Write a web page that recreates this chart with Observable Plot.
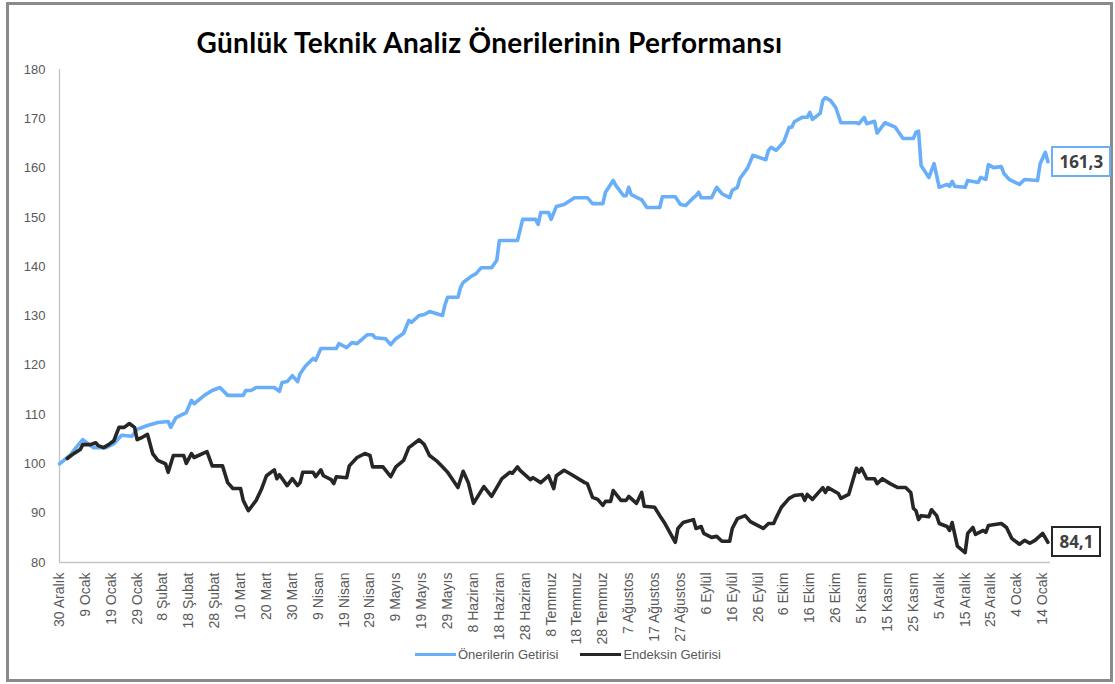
<!DOCTYPE html>
<html><head><meta charset="utf-8">
<script src="https://cdn.jsdelivr.net/npm/d3@7"></script>
<script src="https://cdn.jsdelivr.net/npm/@observablehq/plot@0.6"></script>
<style>
body{margin:0;background:#fff;}
#wrap{position:relative;width:1115px;height:684px;overflow:hidden;background:#fff;}
#frame{position:absolute;left:6px;top:2px;width:1101px;height:674px;border:3px solid #8a8a8a;pointer-events:none;}
#title{position:absolute;left:0;width:979px;top:25px;line-height:28px;text-align:center;font:700 28px Lato,sans-serif;letter-spacing:0.3px;color:#000;}
#legend{position:absolute;left:415px;top:647px;display:flex;align-items:center;font:13px "Liberation Sans",Arial,sans-serif;color:#595959;}
#legend .sw{width:41px;height:3px;margin-right:2px;}
#legend .gap{width:22px;}
.endbox{position:absolute;height:31px;box-sizing:border-box;border:2px solid;padding:0 6px;display:flex;align-items:center;font:700 17px "Open Sans",sans-serif;color:#404040;background:#fff;}
svg{position:absolute;left:0;top:0;}
</style></head>
<body>
<div id="wrap">
  <div id="title">Günlük Teknik Analiz Önerilerinin Performansı</div>
</div>
<script>
// ---- Data ----
const seriesNames = ["Önerilerin Getirisi", "Endeksin Getirisi"];
const seriesColors = ["#68aef8", "#262626"];
const ayAdlari = ["Ocak","Şubat","Mart","Nisan","Mayıs","Haziran","Temmuz","Ağustos","Eylül","Ekim","Kasım","Aralık"];
const yTicks = [80, 90, 100, 110, 120, 130, 140, 150, 160, 170, 180];
const xStart = "2018-12-30";
const xEnd = "2020-01-17";
const xTickStepDays = 10;

const oneri = [
["2018-12-30",100.0],["2019-01-03",101.7],["2019-01-06",103.7],["2019-01-08",104.9],["2019-01-10",104.1],
["2019-01-12",103.3],["2019-01-17",103.3],["2019-01-20",104.1],["2019-01-23",105.8],["2019-01-27",105.6],
["2019-01-29",107.0],["2019-02-02",107.8],["2019-02-06",108.4],["2019-02-10",108.6],["2019-02-11",107.4],
["2019-02-13",109.4],["2019-02-17",110.4],["2019-02-19",112.9],["2019-02-20",112.2],["2019-02-24",113.9],
["2019-02-27",114.9],["2019-03-02",115.5],["2019-03-05",113.9],["2019-03-11",113.9],["2019-03-12",114.9],
["2019-03-14",114.9],["2019-03-16",115.5],["2019-03-23",115.5],["2019-03-25",114.7],["2019-03-26",116.5],
["2019-03-28",116.7],["2019-03-30",117.9],["2019-04-01",116.7],["2019-04-02",118.3],["2019-04-04",119.8],
["2019-04-07",121.4],["2019-04-08",121.0],["2019-04-10",123.4],["2019-04-16",123.4],["2019-04-17",124.4],
["2019-04-20",123.6],["2019-04-22",124.6],["2019-04-24",124.4],["2019-04-28",126.2],["2019-04-30",126.2],
["2019-05-01",125.6],["2019-05-05",125.4],["2019-05-07",124.2],["2019-05-09",125.4],["2019-05-12",126.5],
["2019-05-14",129.1],["2019-05-15",128.7],["2019-05-18",130.1],["2019-05-20",130.3],["2019-05-22",130.9],
["2019-05-27",130.1],["2019-05-28",132.3],["2019-05-29",133.8],["2019-06-02",133.8],["2019-06-03",135.8],
["2019-06-04",136.8],["2019-06-07",138.0],["2019-06-09",138.6],["2019-06-11",139.8],["2019-06-15",139.8],
["2019-06-17",141.3],["2019-06-18",145.3],["2019-06-25",145.3],["2019-06-27",149.6],["2019-07-02",149.6],
["2019-07-03",148.6],["2019-07-04",151.0],["2019-07-07",151.0],["2019-07-08",149.6],["2019-07-10",152.2],
["2019-07-13",152.6],["2019-07-17",154.0],["2019-07-22",154.0],["2019-07-24",152.8],["2019-07-28",152.8],
["2019-07-29",155.1],["2019-08-01",157.5],["2019-08-02",156.5],["2019-08-05",154.4],["2019-08-06",154.4],
["2019-08-07",156.1],["2019-08-08",154.6],["2019-08-11",153.8],["2019-08-12",153.6],["2019-08-14",152.0],
["2019-08-19",152.0],["2019-08-20",154.2],["2019-08-25",154.2],["2019-08-27",152.6],["2019-08-29",152.4],
["2019-09-01",154.0],["2019-09-02",154.4],["2019-09-03",155.1],["2019-09-04",154.0],["2019-09-08",154.0],
["2019-09-10",156.1],["2019-09-12",154.8],["2019-09-15",154.0],["2019-09-16",155.5],["2019-09-18",156.1],
["2019-09-19",157.9],["2019-09-22",160.1],["2019-09-24",162.6],["2019-09-29",161.7],["2019-09-30",163.6],
["2019-10-01",164.2],["2019-10-03",163.6],["2019-10-06",165.4],["2019-10-08",168.3],["2019-10-09",168.3],
["2019-10-10",169.4],["2019-10-13",170.3],["2019-10-15",170.3],["2019-10-16",171.3],["2019-10-17",169.9],
["2019-10-20",171.1],["2019-10-21",173.7],["2019-10-22",174.3],["2019-10-24",173.7],["2019-10-26",172.3],
["2019-10-28",169.2],["2019-11-03",169.2],["2019-11-04",169.0],["2019-11-06",170.3],["2019-11-07",169.0],
["2019-11-10",169.5],["2019-11-11",167.1],["2019-11-14",169.2],["2019-11-18",168.3],["2019-11-21",166.0],
["2019-11-25",166.0],["2019-11-26",167.3],["2019-11-27",167.5],["2019-11-28",160.5],["2019-12-01",158.1],
["2019-12-03",160.9],["2019-12-05",156.1],["2019-12-08",156.7],["2019-12-09",156.3],["2019-12-10",157.3],
["2019-12-11",156.3],["2019-12-15",156.1],["2019-12-16",157.5],["2019-12-20",157.1],["2019-12-21",158.1],
["2019-12-23",157.7],["2019-12-24",160.7],["2019-12-26",160.1],["2019-12-29",160.3],["2019-12-30",158.9],
["2020-01-01",157.7],["2020-01-05",156.7],["2020-01-07",157.7],["2020-01-12",157.5],["2020-01-13",160.9],
["2020-01-15",163.2],["2020-01-16",161.3]
];

const endeks = [
["2019-01-02",101.1],["2019-01-04",101.9],["2019-01-07",102.9],["2019-01-08",103.9],["2019-01-11",103.9],
["2019-01-13",104.3],["2019-01-14",103.7],["2019-01-16",103.3],["2019-01-18",103.9],["2019-01-20",104.7],
["2019-01-22",107.4],["2019-01-24",107.4],["2019-01-26",108.2],["2019-01-28",107.4],["2019-01-29",104.9],
["2019-01-31",105.4],["2019-02-02",106.0],["2019-02-04",102.1],["2019-02-06",100.7],["2019-02-09",100.0],
["2019-02-10",98.3],["2019-02-12",101.7],["2019-02-16",101.7],["2019-02-17",100.1],["2019-02-19",102.1],
["2019-02-20",101.3],["2019-02-25",102.5],["2019-02-27",99.6],["2019-03-03",99.6],["2019-03-05",96.2],
["2019-03-07",95.0],["2019-03-10",95.0],["2019-03-11",92.6],["2019-03-13",90.5],["2019-03-16",92.6],
["2019-03-18",94.8],["2019-03-20",97.6],["2019-03-23",98.8],["2019-03-24",97.0],["2019-03-25",97.8],
["2019-03-28",95.6],["2019-03-30",97.0],["2019-04-01",95.6],["2019-04-02",96.2],["2019-04-03",98.3],
["2019-04-07",98.3],["2019-04-08",97.4],["2019-04-10",98.8],["2019-04-11",97.6],["2019-04-14",96.8],
["2019-04-15",96.0],["2019-04-16",97.4],["2019-04-20",97.2],["2019-04-21",99.6],["2019-04-24",101.3],
["2019-04-27",102.1],["2019-04-29",101.7],["2019-04-30",99.4],["2019-05-04",99.4],["2019-05-07",97.4],
["2019-05-09",99.4],["2019-05-12",100.7],["2019-05-14",103.3],["2019-05-18",104.9],["2019-05-20",103.9],
["2019-05-22",101.7],["2019-05-25",100.5],["2019-05-27",99.4],["2019-05-29",98.3],["2019-06-02",95.2],
["2019-06-04",98.5],["2019-06-06",96.2],["2019-06-08",92.0],["2019-06-12",95.4],["2019-06-15",93.4],
["2019-06-19",97.0],["2019-06-22",98.3],["2019-06-23",98.1],["2019-06-25",99.4],["2019-06-26",98.7],
["2019-06-30",96.8],["2019-07-01",97.2],["2019-07-04",96.2],["2019-07-07",97.6],["2019-07-09",95.0],
["2019-07-10",97.6],["2019-07-13",98.7],["2019-07-16",97.8],["2019-07-21",96.2],["2019-07-22",96.0],
["2019-07-24",93.2],["2019-07-26",92.8],["2019-07-28",91.6],["2019-07-29",92.4],["2019-07-31",92.4],
["2019-08-01",94.6],["2019-08-04",92.6],["2019-08-06",92.6],["2019-08-07",93.4],["2019-08-10",92.0],
["2019-08-12",94.2],["2019-08-13",91.4],["2019-08-17",91.2],["2019-08-19",89.5],["2019-08-21",87.9],
["2019-08-25",84.1],["2019-08-26",86.9],["2019-08-28",88.1],["2019-09-01",88.7],["2019-09-02",86.9],
["2019-09-04",87.3],["2019-09-05",85.9],["2019-09-08",85.1],["2019-09-10",85.3],["2019-09-12",84.3],
["2019-09-15",84.3],["2019-09-16",86.9],["2019-09-18",88.9],["2019-09-21",89.5],["2019-09-23",88.3],
["2019-09-28",86.9],["2019-09-30",87.9],["2019-10-02",87.9],["2019-10-03",89.1],["2019-10-05",91.2],
["2019-10-08",93.0],["2019-10-10",93.6],["2019-10-13",93.8],["2019-10-14",92.6],["2019-10-15",93.8],
["2019-10-17",92.8],["2019-10-21",95.2],["2019-10-22",94.2],["2019-10-23",95.2],["2019-10-27",94.0],
["2019-10-28",93.0],["2019-10-31",93.8],["2019-11-03",99.1],["2019-11-04",98.3],["2019-11-05",99.1],
["2019-11-07",97.0],["2019-11-10",97.0],["2019-11-11",96.0],["2019-11-13",97.0],["2019-11-16",96.0],
["2019-11-19",95.2],["2019-11-22",95.2],["2019-11-24",94.2],["2019-11-25",91.0],["2019-11-26",90.5],
["2019-11-27",88.7],["2019-11-28",89.5],["2019-12-01",89.3],["2019-12-02",90.7],["2019-12-04",89.5],
["2019-12-05",87.9],["2019-12-08",87.3],["2019-12-09",86.5],["2019-12-10",88.1],["2019-12-12",83.3],
["2019-12-15",82.0],["2019-12-16",85.9],["2019-12-18",87.1],["2019-12-19",85.7],["2019-12-22",86.5],
["2019-12-23",86.1],["2019-12-24",87.5],["2019-12-29",87.9],["2019-12-31",87.1],["2020-01-02",84.9],
["2020-01-05",83.7],["2020-01-07",84.5],["2020-01-09",83.9],["2020-01-11",84.5],["2020-01-14",85.9],
["2020-01-16",84.1]
];

// ---- Build ----
const start = new Date(xStart), end = new Date(xEnd);
const xTicks = d3.range(0, 39).map(i => d3.utcDay.offset(start, i * xTickStepDays));
const fmtTick = d => `${d.getUTCDate()} ${ayAdlari[d.getUTCMonth()]}`;
const X = d => new Date(d[0]), Y = d => d[1];

const plot = Plot.plot({
  width: 1115, height: 684,
  marginLeft: 59, marginRight: 65, marginTop: 69, marginBottom: 122,
  style: {fontFamily: "'Liberation Sans', Arial, sans-serif", color: "#595959", background: "transparent", overflow: "visible"},
  x: {type: "utc", domain: [start, end]},
  y: {domain: [80, 180]},
  marks: [
    Plot.ruleY([80], {stroke: "#c4c4c4", strokeWidth: 1.3}),
    Plot.ruleX([start], {y1: 80, y2: 180, stroke: "#c4c4c4", strokeWidth: 1.3}),
    Plot.axisY({ticks: yTicks, tickSize: 0, tickPadding: 14, fontSize: 13, label: null}),
    Plot.axisX({ticks: xTicks, tickFormat: fmtTick, tickRotate: -90, tickSize: 0, tickPadding: 10, fontSize: 14, label: null}),
    Plot.line(oneri, {x: X, y: Y, stroke: seriesColors[0], strokeWidth: 3.6, strokeLinejoin: "round"}),
    Plot.line(endeks, {x: X, y: Y, stroke: seriesColors[1], strokeWidth: 3.6, strokeLinejoin: "round"})
  ]
});

const wrap = document.getElementById("wrap");
wrap.appendChild(plot);

const frame = document.createElement("div"); frame.id = "frame"; wrap.appendChild(frame);

const sx = plot.scale("x"), sy = plot.scale("y");
function addBox(series, color) {
  const last = series[series.length - 1];
  const b = document.createElement("div");
  b.className = "endbox";
  b.textContent = last[1].toFixed(1).replace(".", ",");
  b.style.left = (sx.apply(X(last)) + 4) + "px";
  b.style.top = (sy.apply(Y(last)) - 15.5) + "px";
  b.style.borderColor = color;
  wrap.appendChild(b);
}
addBox(oneri, seriesColors[0]);
addBox(endeks, seriesColors[1]);

const lg = document.createElement("div"); lg.id = "legend";
seriesNames.forEach((n, i) => {
  if (i > 0) { const g = document.createElement("div"); g.className = "gap"; lg.appendChild(g); }
  const sw = document.createElement("div"); sw.className = "sw"; sw.style.background = seriesColors[i]; lg.appendChild(sw);
  const t = document.createElement("span"); t.textContent = n; lg.appendChild(t);
});
wrap.appendChild(lg);
</script>
</body></html>
